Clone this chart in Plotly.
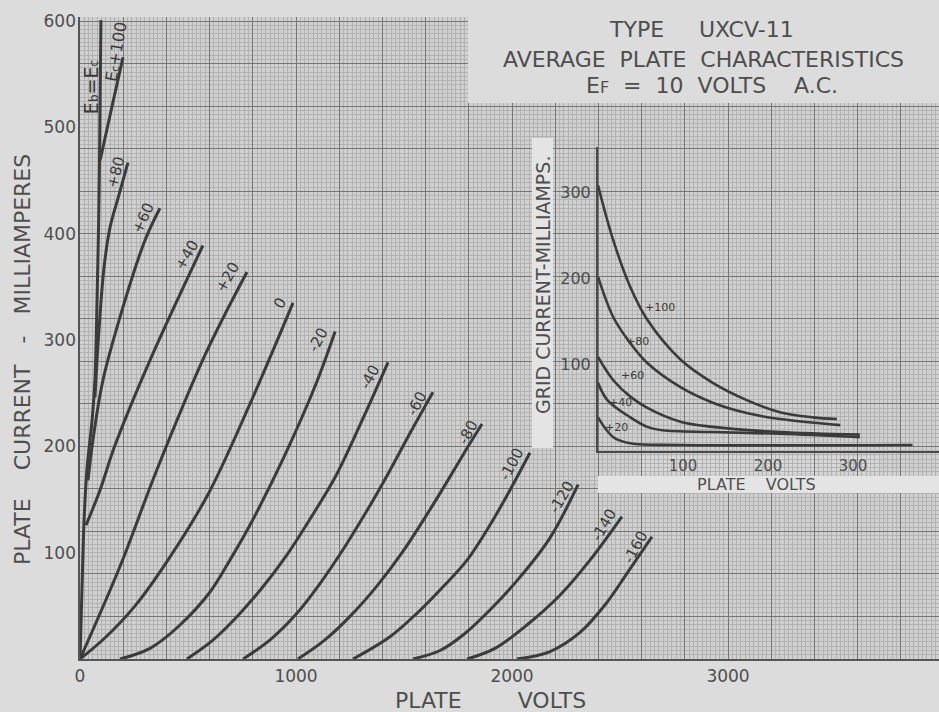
import plotly.graph_objects as go

# ---------------- main chart: plate volts vs plate milliamperes ----------------
SMALL = "<span style='font-size:{}px'>{}</span>"
curve_labels = ["E" + SMALL.format(12, "b") + "=E" + SMALL.format(12, "c"),
                "E" + SMALL.format(11, "c") + "+100", "+80", "+60", "+40", "+20", "0",
                "-20", "-40", "-60", "-80", "-100", "-120", "-140", "-160"]

v_ebec = [0, 9, 19, 32, 56, 69, 79, 88, 93, 97]
i_ebec = [0, 65, 131, 178, 225, 262, 338, 432, 526, 601]
v_p100 = [93, 144, 199]
i_p100 = [469, 516, 566]
v_p80 = [69, 88, 111, 139, 181, 222]
i_p80 = [246, 310, 368, 406, 437, 467]
v_p60 = [37, 60, 106, 199, 301, 370]
i_p60 = [168, 206, 262, 331, 394, 424]
v_p40 = [28, 93, 162, 324, 569]
i_p40 = [126, 159, 201, 281, 389]
v_p20 = [0, 185, 356, 579, 773]
i_p20 = [0, 87, 178, 286, 364]
v_0 = [0, 116, 255, 407, 593, 787, 986]
i_0 = [0, 20, 50, 93, 155, 240, 335]
v_m20 = [185, 324, 463, 602, 694, 787, 949, 1097, 1181]
i_m20 = [0, 10, 32, 63, 93, 126, 192, 261, 308]
v_m40 = [495, 611, 732, 847, 958, 1069, 1181, 1296, 1426]
i_m40 = [0, 17, 41, 68, 98, 133, 171, 220, 279]
v_m60 = [755, 880, 1000, 1111, 1218, 1324, 1431, 1532, 1634]
i_m60 = [0, 18, 42, 71, 103, 138, 176, 214, 251]
v_m80 = [1009, 1134, 1259, 1380, 1491, 1597, 1694, 1782, 1861]
i_m80 = [0, 18, 42, 70, 100, 133, 165, 195, 221]
v_m100 = [1264, 1435, 1560, 1681, 1792, 1898, 1991, 2083]
i_m100 = [0, 21, 43, 68, 93, 126, 159, 194]
v_m120 = [1542, 1667, 1782, 1907, 2037, 2176, 2306]
i_m120 = [0, 8, 24, 48, 77, 114, 164]
v_m140 = [1792, 1921, 2069, 2222, 2361, 2509]
i_m140 = [0, 10, 32, 60, 93, 134]
v_m160 = [2023, 2176, 2315, 2431, 2537, 2648]
i_m160 = [0, 7, 25, 51, 82, 115]

main_v = [v_ebec, v_p100, v_p80, v_p60, v_p40, v_p20, v_0, v_m20, v_m40, v_m60, v_m80,
          v_m100, v_m120, v_m140, v_m160]
main_i = [i_ebec, i_p100, i_p80, i_p60, i_p40, i_p20, i_0, i_m20, i_m40, i_m60, i_m80,
          i_m100, i_m120, i_m140, i_m160]

# label anchor positions (volts, mA), text angles and sizes
label_v = [51, 165, 167, 292, 495, 685, 926, 1102, 1343, 1560, 1796, 2000, 2231, 2426, 2574]
label_i = [538, 571, 458, 415, 380, 359, 335, 300, 265, 241, 214, 183, 152, 126, 105]
label_ang = [-90, -80, -75, -65, -60, -60, -60, -62, -62, -62, -62, -62, -60, -60, -62]
label_size = [19, 16, 15, 15, 15, 15, 15, 15, 15, 15, 15, 15, 15, 15, 15]

x_ticks = [0, 1000, 2000, 3000]
y_ticks = [100, 200, 300, 400, 500, 600]

# ---------------- inset: grid current vs plate volts ----------------
inset_labels = ["+100", "+80", "+60", "+40", "+20"]
g_v_p100 = [0, 18, 38, 58, 97, 135, 175, 214, 253, 281]
g_i_p100 = [308, 244, 190, 152, 106, 79, 59, 45, 39, 37]
g_v_p80 = [0, 18, 38, 58, 97, 135, 175, 214, 285]
g_i_p80 = [202, 155, 125, 102, 74, 56, 44, 37, 30]
g_v_p60 = [0, 18, 38, 58, 97, 135, 214, 308]
g_i_p60 = [109, 82, 63, 50, 34, 28, 22, 19]
g_v_p40 = [0, 11, 38, 58, 76, 135, 214, 308]
g_i_p40 = [79, 59, 39, 28, 24, 22, 20, 16]
g_v_p20 = [0, 18, 38, 97, 370]
g_i_p20 = [39, 16, 9, 7, 7]
inset_v = [g_v_p100, g_v_p80, g_v_p60, g_v_p40, g_v_p20]
inset_i = [g_i_p100, g_i_p80, g_i_p60, g_i_p40, g_i_p20]
inset_label_v = [73, 46, 41, 26, 22]
inset_label_i = [166, 127, 87, 56, 27]
inset_ticks = [100, 200, 300]

# ---------------- styling ----------------
W, H = 939, 712
ML, MR, MT, MB = 80, 0, 17, 53
PW, PH = W - ML - MR, H - MT - MB
FONT = "DejaVu Sans"
INK = "#3b3b3b"
TXT = "#4e4e4e"
PAPER = "#dcdcdc"
PLOTBG = "#d0d0d0"
MINOR = "#b2b2b2"
MAJOR = "#767676"
STRIP = "#e4e4e4"


def px_x(px):
    return (px - ML) / PW


def px_y(py):
    return (H - MB - py) / PH


fig = go.Figure()

for v, i in zip(main_v, main_i):
    fig.add_trace(go.Scatter(x=v, y=i, mode="lines", xaxis="x", yaxis="y",
                             line=dict(color=INK, width=3, shape="spline", smoothing=1.0),
                             hoverinfo="skip", showlegend=False))

# empty traces that create the overlay axes carrying the tick labels
fig.add_trace(go.Scatter(x=[None], y=[None], xaxis="x", yaxis="y3", showlegend=False,
                         hoverinfo="skip"))
fig.add_trace(go.Scatter(x=[None], y=[None], xaxis="x3", yaxis="y", showlegend=False,
                         hoverinfo="skip"))

for v, i in zip(inset_v, inset_i):
    fig.add_trace(go.Scatter(x=v, y=i, mode="lines", xaxis="x2", yaxis="y2",
                             line=dict(color=INK, width=2.6, shape="spline", smoothing=1.0),
                             hoverinfo="skip", showlegend=False))


def ann(**kw):
    base = dict(showarrow=False, xanchor="center", yanchor="middle")
    base.update(kw)
    return base


annotations = []
for t, v, i, a, s in zip(curve_labels, label_v, label_i, label_ang, label_size):
    annotations.append(ann(x=v, y=i, xref="x", yref="y", text=t, textangle=a,
                           font=dict(family=FONT, size=s, color=INK)))
for t, v, i in zip(inset_labels, inset_label_v, inset_label_i):
    annotations.append(ann(x=v, y=i, xref="x2", yref="y2", text=t,
                           font=dict(family=FONT, size=11, color=INK)))

title_lines = [
    ("TYPE     UXCV-11", 701, 30),
    ("AVERAGE  PLATE  CHARACTERISTICS", 703, 60),
    ("E" + SMALL.format(16, "F") + "  =  10  VOLTS    A.C.", 712, 85),
]
for t, x, y in title_lines:
    annotations.append(ann(x=px_x(x), y=px_y(y), xref="paper", yref="paper", text=t,
                           font=dict(family=FONT, size=22, color=TXT)))

annotations.append(ann(x=px_x(22), y=px_y(360), xref="paper", yref="paper",
                       text="PLATE    CURRENT   -   MILLIAMPERES", textangle=-90,
                       font=dict(family=FONT, size=22, color=TXT)))
annotations.append(ann(x=px_x(490), y=px_y(701), xref="paper", yref="paper",
                       text="PLATE        VOLTS",
                       font=dict(family=FONT, size=22, color=TXT)))
annotations.append(ann(x=px_x(543), y=px_y(285), xref="paper", yref="paper",
                       text="GRID CURRENT-MILLIAMPS.", textangle=-90,
                       font=dict(family=FONT, size=19, color=TXT)))
annotations.append(ann(x=px_x(756), y=px_y(484), xref="paper", yref="paper",
                       text="PLATE    VOLTS",
                       font=dict(family=FONT, size=16, color=TXT)))

shapes = [
    # graph paper background (below grid)
    dict(type="rect", xref="paper", yref="paper", x0=0, x1=1, y0=0, y1=1,
         fillcolor=PLOTBG, line=dict(width=0), layer="below"),
    # title box
    dict(type="rect", xref="paper", yref="paper", x0=px_x(468), x1=1.01, y0=px_y(103), y1=1.05,
         fillcolor=PAPER, line=dict(width=0), layer="above"),
    # strip behind inset y title
    dict(type="rect", xref="paper", yref="paper", x0=px_x(532), x1=px_x(553), y0=px_y(448),
         y1=px_y(138), fillcolor=STRIP, line=dict(width=0), layer="above"),
    # strip behind inset x title
    dict(type="rect", xref="paper", yref="paper", x0=px_x(598), x1=1.0, y0=px_y(493),
         y1=px_y(476), fillcolor=STRIP, line=dict(width=0), layer="above"),
    # faint patch behind inset tick labels
    dict(type="rect", xref="paper", yref="paper", x0=px_x(640), x1=px_x(880), y0=px_y(473),
         y1=px_y(456), fillcolor="rgba(226,226,226,0.45)", line=dict(width=0), layer="below"),
]

x_range = [0, PW / 0.216]
y_range = [0, PH / 1.063]

inset_x_range = [0, (W - 598) / 0.85]
inset_y_range = [0, (451 - 147) / 0.863]

fig.update_layout(
    width=W, height=H,
    margin=dict(l=ML, r=MR, t=MT, b=MB, pad=0),
    paper_bgcolor=PAPER,
    plot_bgcolor="rgba(0,0,0,0)",
    showlegend=False,
    font=dict(family=FONT, color=TXT),
    xaxis=dict(
        domain=[0, 1], range=x_range, anchor="y",
        tickmode="linear", tick0=0, dtick=200, showticklabels=False,
        ticks="", showgrid=True, gridcolor=MAJOR, gridwidth=1,
        minor=dict(dtick=20, tick0=0, showgrid=True, gridcolor=MINOR, gridwidth=1),
        zeroline=False, showline=True, linecolor="#555555", linewidth=2,
        fixedrange=True,
    ),
    xaxis3=dict(
        overlaying="x", matches="x", anchor="y", side="bottom",
        tickmode="array", tickvals=x_ticks, ticktext=[str(v) for v in x_ticks],
        showgrid=False, zeroline=False, showline=False, ticks="",
        tickfont=dict(family=FONT, size=17, color=TXT), ticklabelstandoff=5,
    ),
    yaxis=dict(
        domain=[0, 1], range=y_range, anchor="x",
        tickmode="linear", tick0=0, dtick=40, showticklabels=False,
        ticks="", showgrid=True, gridcolor=MAJOR, gridwidth=1,
        minor=dict(dtick=4, tick0=0, showgrid=True, gridcolor=MINOR, gridwidth=1),
        zeroline=False, showline=True, linecolor="#555555", linewidth=2,
        fixedrange=True,
    ),
    yaxis3=dict(
        overlaying="y", matches="y", anchor="x", side="left",
        tickmode="array", tickvals=y_ticks, ticktext=[str(v) for v in y_ticks],
        showgrid=False, zeroline=False, showline=False, ticks="",
        tickfont=dict(family=FONT, size=17, color=TXT), ticklabelstandoff=3,
    ),
    xaxis2=dict(
        domain=[px_x(598), 1], range=inset_x_range, anchor="y2",
        tickmode="array", tickvals=inset_ticks, ticktext=[str(v) for v in inset_ticks],
        showgrid=False, zeroline=False, showline=True, linecolor="#4a4a4a", linewidth=2,
        ticks="", tickfont=dict(family=FONT, size=15, color=TXT), ticklabelstandoff=0,
        fixedrange=True,
    ),
    yaxis2=dict(
        domain=[px_y(451), px_y(147)], range=inset_y_range, anchor="x2",
        tickmode="array", tickvals=inset_ticks, ticktext=[str(v) for v in inset_ticks],
        showgrid=False, zeroline=False, showline=True, linecolor="#4a4a4a", linewidth=2,
        ticks="", tickfont=dict(family=FONT, size=16, color=TXT), ticklabelstandoff=2,
        fixedrange=True,
    ),
    annotations=annotations,
    shapes=shapes,
)

fig.write_html("out.html", config={"displayModeBar": False},
               post_script="document.body.style.margin='0px';document.body.style.overflow='hidden';")
